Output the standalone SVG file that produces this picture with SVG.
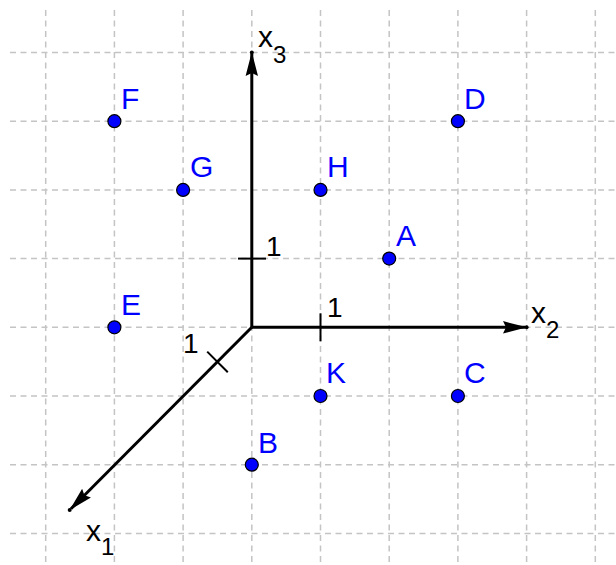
<svg xmlns="http://www.w3.org/2000/svg" width="616" height="565" viewBox="0 0 616 565">
<style>
.grid line{stroke:#c4c4c4;stroke-width:1.5;stroke-dasharray:6 4.5}
.axis{stroke:#000;stroke-width:3;fill:none}
.tick{stroke:#000;stroke-width:2}
.pt{fill:#0000ff;stroke:#000;stroke-width:1.2}
.lbl{font-family:"Liberation Sans",Arial,sans-serif;font-size:30px;fill:#0000ff}
.ax{font-family:"Liberation Sans",Arial,sans-serif;fill:#000}
</style>
<defs>
<marker id="arr" viewBox="0 0 24 14" refX="22" refY="7" markerWidth="24" markerHeight="14" markerUnits="userSpaceOnUse" orient="auto">
<path d="M24,7 L0,0.8 L3,7 L0,13.2 Z" fill="#000"/>
</marker>
</defs>
<rect width="616" height="565" fill="#fff"/>
<g class="grid" id="grid">
<line x1="45.7" y1="10" x2="45.7" y2="565"/>
<line x1="114.4" y1="10" x2="114.4" y2="565"/>
<line x1="183.1" y1="10" x2="183.1" y2="565"/>
<line x1="251.8" y1="10" x2="251.8" y2="565"/>
<line x1="320.5" y1="10" x2="320.5" y2="565"/>
<line x1="389.2" y1="10" x2="389.2" y2="565"/>
<line x1="457.9" y1="10" x2="457.9" y2="565"/>
<line x1="526.6" y1="10" x2="526.6" y2="565"/>
<line x1="595.3" y1="10" x2="595.3" y2="565"/>
<line x1="10" y1="52.5" x2="616" y2="52.5"/>
<line x1="10" y1="121.2" x2="616" y2="121.2"/>
<line x1="10" y1="189.9" x2="616" y2="189.9"/>
<line x1="10" y1="258.6" x2="616" y2="258.6"/>
<line x1="10" y1="327.3" x2="616" y2="327.3"/>
<line x1="10" y1="396" x2="616" y2="396"/>
<line x1="10" y1="464.7" x2="616" y2="464.7"/>
<line x1="10" y1="533.4" x2="616" y2="533.4"/>
</g>
<g id="connectors">
<line class="axis" x1="251.8" y1="327.3" x2="251.8" y2="54" marker-end="url(#arr)"/>
<line class="axis" x1="251.8" y1="327.3" x2="525" y2="327.3" marker-end="url(#arr)"/>
<line class="axis" x1="251.8" y1="327.3" x2="71" y2="508.7" marker-end="url(#arr)"/>
<circle cx="251.8" cy="52.5" r="2" fill="#000"/>
<circle cx="526.6" cy="327.3" r="2" fill="#000"/>
<circle cx="69.7" cy="510" r="2" fill="#000"/>
<line class="tick" x1="238" y1="258.6" x2="266" y2="258.6"/>
<line class="tick" x1="320.5" y1="313.3" x2="320.5" y2="341.3"/>
<line class="tick" x1="207.2" y1="351.6" x2="227.8" y2="372.2"/>
</g>
<g id="axis-labels">
<text class="ax" x="258" y="47" font-size="30">x<tspan font-size="24" dy="16">3</tspan></text>
<text class="ax" x="531" y="323" font-size="30">x<tspan font-size="24" dy="15">2</tspan></text>
<text class="ax" x="86" y="541" font-size="30">x<tspan font-size="24" dy="14">1</tspan></text>
<text class="ax" x="266" y="255.5" font-size="28">1</text>
<text class="ax" x="327" y="316.5" font-size="28">1</text>
<text class="ax" x="183" y="352.5" font-size="28">1</text>
</g>
<g id="F"><circle class="pt" cx="114.4" cy="121.2" r="6.5"/><text class="lbl" x="121" y="109">F</text></g>
<g id="G"><circle class="pt" cx="183.1" cy="189.9" r="6.5"/><text class="lbl" x="190" y="176.7">G</text></g>
<g id="D"><circle class="pt" cx="457.9" cy="121.2" r="6.5"/><text class="lbl" x="464" y="109">D</text></g>
<g id="H"><circle class="pt" cx="320.5" cy="189.9" r="6.5"/><text class="lbl" x="327" y="176.7">H</text></g>
<g id="A"><circle class="pt" cx="389.2" cy="258.6" r="6.5"/><text class="lbl" x="396" y="245.5">A</text></g>
<g id="E"><circle class="pt" cx="114.4" cy="327.3" r="6.5"/><text class="lbl" x="121" y="315">E</text></g>
<g id="K"><circle class="pt" cx="320.5" cy="396" r="6.5"/><text class="lbl" x="326" y="383">K</text></g>
<g id="C"><circle class="pt" cx="457.9" cy="396" r="6.5"/><text class="lbl" x="464" y="383">C</text></g>
<g id="B"><circle class="pt" cx="251.8" cy="464.7" r="6.5"/><text class="lbl" x="258" y="452.5">B</text></g>
</svg>
